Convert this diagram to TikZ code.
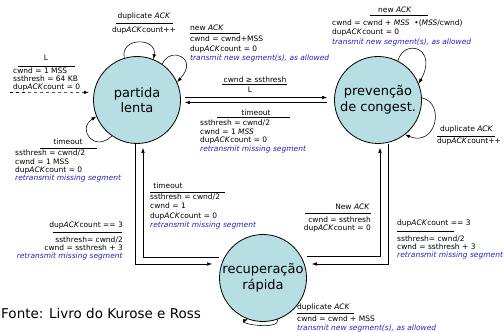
\documentclass[tikz,border=0pt]{standalone}
\usepackage{fontspec}
\setmainfont{DejaVu Sans}
\usepackage{xcolor}
\definecolor{statefill}{HTML}{B7DFE3}
\definecolor{actblue}{HTML}{2323B5}
\usepackage{tikz}
\usetikzlibrary{arrows.meta, positioning}
\newcommand{\lbl}[1]{\fontsize{7.5}{#1}\selectfont}
\newcommand{\acktxt}{\textit{ACK}}
\newcommand{\bluetxt}[1]{\textcolor{actblue}{\textit{#1}}}
\tikzstyle{state}    = [circle, draw=black, line width=0.8pt, fill=statefill,
                        minimum size=87pt, inner sep=0pt, align=center,
                        font=\fontsize{13}{15.5}\selectfont]
\tikzstyle{arrow}    = [-{Latex[length=5pt, width=3.6pt]}, line width=0.55pt]
\tikzstyle{evt}      = [inner sep=0pt, font=\lbl{8.5}]
\tikzstyle{act}      = [inner sep=0pt, align=left, font=\lbl{8.5}]
\tikzstyle{eventbar} = [line width=0.55pt]

\begin{document}
\begin{tikzpicture}[x=1pt, y=1pt]
  \useasboundingbox (0,0) rectangle (504,332);

  \node[state] (slow)  at (137,232) {partida\\lenta};
  \node[state] (avoid) at (378,232) {prevenção\\de congest.};
  \node[state] (fast)  at (263,54)  {recuperação\\rápida};
  \coordinate (init) at (10,239.5);

  \draw[arrow, dashed, shorten >=5pt] (init) -- (slow.170);
  \draw[arrow] (slow.107) to[out=100, in=80, distance=22pt] (slow.68);
  \draw[arrow] (slow.55) to[out=66, in=48, out distance=20pt, in distance=33pt] (slow.24);
  \draw[arrow] (slow.235) to[out=225, in=213, distance=24pt] (slow.202);
  \draw[arrow, shorten <=4pt, shorten >=7pt] ([yshift=2.5pt]slow.east) -- ([yshift=2.5pt]avoid.west);
  \draw[arrow, shorten <=7pt, shorten >=4pt] ([yshift=-2.5pt]avoid.west) -- ([yshift=-2.5pt]slow.east);
  \draw[arrow] (avoid.63) to[out=75, in=61, out distance=24pt, in distance=41pt] (avoid.22);
  \draw[arrow] (avoid.3) to[out=-14, in=-23, out distance=25pt, in distance=33pt] (avoid.-52);
  \draw[arrow] (fast.290) to[out=-80, in=200, distance=12pt] (fast.250);
  \draw[arrow, shorten >=7pt] ([xshift=-2pt]slow.south) |- ([yshift=14pt]fast.west);
  \draw[arrow, shorten >=4pt] ([yshift=21pt]fast.west) -| ([xshift=6pt]slow.south);
  \draw[arrow, shorten >=5pt] ([xshift=10pt]avoid.south) |- ([yshift=14pt]fast.east);
  \draw[arrow, shorten >=4pt] ([yshift=22pt]fast.east) -| ([xshift=2pt]avoid.south);

  \node[evt, anchor=base] (ev-init) at (46,271.6) {L};
  \draw[eventbar] (18,266) -- (75,266);
  \node[act, anchor=north west, font=\lbl{8}] (ac-init) at (13,264.4)
    {cwnd = 1 MSS\\ssthresh = 64 KB\\dup\acktxt count = 0};

  \node[evt, anchor=base] (ev-dupslow) at (144,313.6) {duplicate \acktxt};
  \draw[eventbar] (116,309) -- (173,309);
  \node[evt, anchor=base] (ac-dupslow) at (144,299.6) {dup\acktxt count++};

  \node[evt, anchor=base west] (ev-newslow) at (190,301.6) {new \acktxt};
  \draw[eventbar] (190,299) -- (240,299);
  \node[act, anchor=north west, font=\lbl{9.5}] (ac-newslow) at (190,296.1)
    {cwnd = cwnd+MSS\\dup\acktxt count = 0\\\bluetxt{transmit new segment(s), as allowed}};

  \node[evt, anchor=base] (ev-ss) at (255,249.6) {cwnd ≥ ssthresh};
  \draw[eventbar] (222,248) -- (287,248);
  \node[evt, anchor=base] (ac-ss) at (250,239.6) {L};

  \node[evt, anchor=base] (ev-tomid) at (256,216.6) {timeout};
  \draw[eventbar] (217,215) -- (290,215);
  \node[act, anchor=north west, font=\lbl{8.7}] (ac-tomid) at (200,212.4)
    {ssthresh = cwnd/2\\cwnd = 1 \textit{MSS}\\dup\acktxt count = 0\\\bluetxt{retransmit missing segment}};

  \node[evt, anchor=base] (ev-newavoid) at (395,319.6) {new \acktxt};
  \draw[eventbar] (370,317) -- (428,317);
  \node[act, anchor=north west, font=\lbl{9.5}] (ac-newavoid) at (332,312.5)
    {cwnd = cwnd + \textit{MSS}\ \ •(\textit{MSS}/cwnd)\\dup\acktxt count = 0\\\bluetxt{transmit new segment(s), as allowed}};

  \node[evt, anchor=base west] (ev-dupavoid) at (440,200.6) {duplicate \acktxt};
  \draw[eventbar] (437,196) -- (495,196);
  \node[evt, anchor=base west] (ac-dupavoid) at (437,188) {dup\acktxt count++};

  \node[evt, anchor=base] (ev-toslow) at (68,187.6) {timeout};
  \draw[eventbar] (40,184) -- (97,184);
  \node[act, anchor=north west, font=\lbl{8.3}] (ac-toslow) at (15,182.1)
    {ssthresh = cwnd/2\\cwnd = 1 MSS\\dup\acktxt count = 0\\\bluetxt{retransmit missing segment}};

  \node[evt, anchor=base] (ev-tofast) at (168,143.6) {timeout};
  \draw[eventbar] (150,140) -- (225,140);
  \node[act, anchor=north west, font=\lbl{9.3}] (ac-tofast) at (150,138.4)
    {ssthresh = cwnd/2\\cwnd = 1\\dup\acktxt count = 0\\\bluetxt{retransmit missing segment}};

  \node[evt, anchor=base east] (ev-dup3slow) at (123,104.6) {dup\acktxt count == 3};
  \draw[eventbar] (53,100) -- (122,100);
  \node[act, align=right, anchor=north east, font=\lbl{8}] (ac-dup3slow) at (123,95.4)
    {ssthresh= cwnd/2\\cwnd = ssthresh + 3\\\bluetxt{retransmit missing segment}};

  \node[evt, anchor=base east] (ev-newfast) at (370,122.9) {New \acktxt};
  \draw[eventbar] (305,118.6) -- (371,118.6);
  \node[act, align=right, anchor=north east, font=\lbl{8}] (ac-newfast) at (371,115.4)
    {cwnd = ssthresh\\dup\acktxt count = 0};

  \node[evt, anchor=base west] (ev-dup3avoid) at (397,106.5) {dup\acktxt count == 3};
  \draw[eventbar] (397,100.5) -- (454,100.5);
  \node[act, anchor=north west, font=\lbl{8}] (ac-dup3avoid) at (397,96.2)
    {ssthresh= cwnd/2\\cwnd = ssthresh + 3\\\bluetxt{retransmit missing segment}};

  \node[evt, anchor=base west] (ev-dupfast) at (297,22.5) {duplicate \acktxt};
  \draw[eventbar] (297,18.7) -- (354,18.7);
  \node[act, anchor=north west, font=\lbl{9}] (ac-dupfast) at (297,16.1)
    {cwnd = cwnd + MSS\\\bluetxt{transmit new segment(s), as allowed}};

  \node[anchor=base west, inner sep=0pt, font=\fontsize{13.5}{16}\selectfont] (src) at (1,13.3)
    {Fonte: Livro do Kurose e Ross};
\end{tikzpicture}
\end{document}
